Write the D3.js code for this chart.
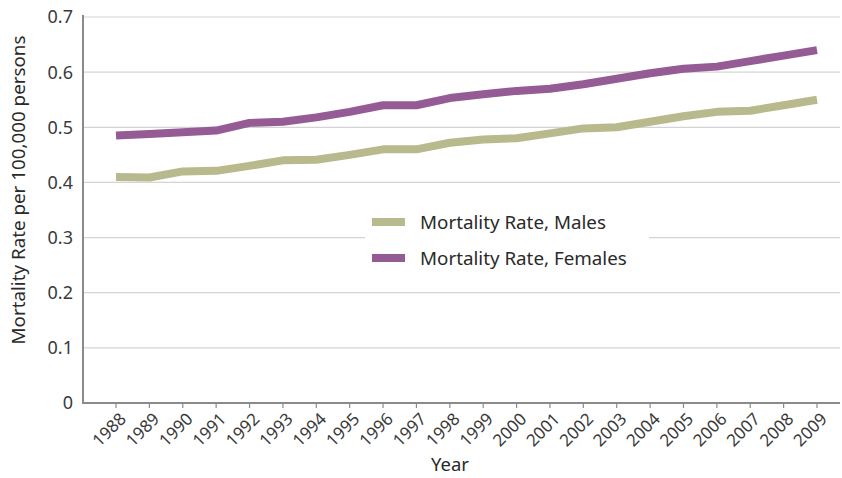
<!DOCTYPE html>
<html><head><meta charset="utf-8">
<script src="https://cdn.jsdelivr.net/npm/d3@7"></script>
<style>body{margin:0;background:#fff;}svg{display:block;font-family:"Noto Sans","Open Sans",sans-serif;}</style>
</head><body>
<svg id="c" width="842" height="478"></svg>
<script>
const years = [1988,1989,1990,1991,1992,1993,1994,1995,1996,1997,1998,1999,2000,2001,2002,2003,2004,2005,2006,2007,2008,2009];
const males = [0.410,0.409,0.420,0.421,0.430,0.440,0.441,0.450,0.460,0.460,0.472,0.478,0.480,0.489,0.498,0.500,0.510,0.520,0.528,0.530,0.540,0.550];
const females = [0.485,0.488,0.491,0.494,0.508,0.510,0.518,0.528,0.540,0.540,0.553,0.560,0.566,0.570,0.578,0.588,0.598,0.606,0.610,0.620,0.630,0.640];
const yTicks = [0,0.1,0.2,0.3,0.4,0.5,0.6,0.7];
const seriesNames = ["Mortality Rate, Males","Mortality Rate, Females"];
const colors = ["#b8b98c","#955b95"];

(function(){
const svg = d3.select("#c");
const pl = 83, pr = 840, pt = 17, pb = 403;
const x = d3.scaleLinear().domain([1988,2009]).range([116,817]);
const y = d3.scaleLinear().domain([0,0.7]).range([pb,pt]);

svg.append("g").selectAll("line").data(yTicks.filter(d=>d>0)).join("line")
  .attr("x1",pl).attr("x2",pr).attr("y1",d=>y(d)).attr("y2",d=>y(d))
  .attr("stroke","#d4d4d4").attr("stroke-width",1.2);

svg.append("g").selectAll("text").data(yTicks).join("text")
  .attr("x",73).attr("y",d=>y(d)).attr("dy","0.36em").attr("text-anchor","end")
  .attr("font-size",18).attr("fill","#3a3a3a").text(d=>d===0?"0":d.toFixed(1));

svg.append("line").attr("x1",pl).attr("x2",pl).attr("y1",pt-2).attr("y2",pb+1)
  .attr("stroke","#8a8a8a").attr("stroke-width",2);
svg.append("line").attr("x1",pl-1).attr("x2",pr).attr("y1",pb).attr("y2",pb)
  .attr("stroke","#8a8a8a").attr("stroke-width",2);

svg.append("g").selectAll("line").data(years).join("line")
  .attr("x1",d=>x(d)).attr("x2",d=>x(d)).attr("y1",pb).attr("y2",pb+5)
  .attr("stroke","#8a8a8a").attr("stroke-width",1.2);
svg.append("g").selectAll("text").data(years).join("text")
  .attr("transform",d=>`translate(${x(d)+5},${pb+11}) rotate(-45)`)
  .attr("text-anchor","end").attr("dy","0.5em")
  .attr("font-size",17).attr("fill","#3a3a3a").text(d=>d);

const line = d3.line().x((d,i)=>x(years[i])).y(d=>y(d));
[males,females].forEach((s,k)=>{
  svg.append("path").datum(s).attr("d",line).attr("fill","none")
    .attr("stroke",colors[k]).attr("stroke-width",8).attr("stroke-linejoin","round");
});

svg.append("rect").attr("x",365).attr("y",205).attr("width",284).attr("height",70).attr("fill","#fff");
seriesNames.forEach((n,k)=>{
  const ly = 222 + k*36;
  svg.append("rect").attr("x",372).attr("y",ly-4).attr("width",33).attr("height",8).attr("fill",colors[k]);
  svg.append("text").attr("x",420).attr("y",ly).attr("dy","0.36em")
    .attr("font-size",18.8).attr("fill","#2a2a2a").text(n);
});

svg.append("text").attr("transform","translate(25,190) rotate(-90)").attr("text-anchor","middle")
  .attr("font-size",18.8).attr("fill","#2a2a2a").text("Mortality Rate per 100,000 persons");
svg.append("text").attr("x",450).attr("y",471).attr("text-anchor","middle")
  .attr("font-size",18.5).attr("fill","#2a2a2a").text("Year");
})();
</script>
</body></html>
